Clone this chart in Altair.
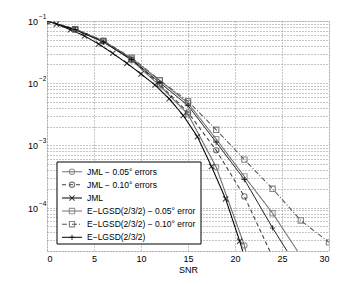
import altair as alt
import pandas as pd

FONT = "Liberation Sans"

# ---- data ----
snr_grid = [0, 3, 6, 9, 12, 15, 18, 21, 24, 27, 30]
snr_jml = [1, 2.5, 4, 5.5, 7, 8.5, 10, 11.5, 13, 14.5, 16, 17.5, 19, 20.5, 22]

jml_005 = [0.1, 0.0724, 0.0468, 0.0234, 0.00912, 0.00316, 0.000447, 2.45e-5, 3.2e-7]
jml_010 = [0.1, 0.0741, 0.0479, 0.0240, 0.00955, 0.00339, 0.000832, 0.000151, 1.6e-5]
jml = [0.0891, 0.0724, 0.0575, 0.0427, 0.0302, 0.0209, 0.0141, 0.00933, 0.00562,
       0.00302, 0.00138, 0.000457, 0.000138, 2.88e-5, 5e-6]
elgsd_005 = [0.1, 0.0741, 0.0479, 0.0251, 0.0110, 0.00479, 0.00126, 0.000316, 8.1e-5, 1.66e-5]
elgsd_010 = [0.1, 0.0741, 0.0479, 0.0257, 0.0112, 0.00513, 0.00178, 0.000589, 0.0002, 6.2e-5, 2.75e-5]
elgsd = [0.1, 0.0724, 0.0457, 0.0240, 0.0102, 0.00437, 0.00112, 0.000282, 4.7e-5, 8.9e-6]

series_names = [
    "JML \u2212 0.05\u00b0 errors",
    "JML \u2212 0.10\u00b0 errors",
    "JML",
    "E\u2212LGSD(2/3/2) \u2212 0.05\u00b0 errors",
    "E\u2212LGSD(2/3/2) \u2212 0.10\u00b0 errors",
    "E\u2212LGSD(2/3/2)",
]
series_x = [snr_grid, snr_grid, snr_jml, snr_grid, snr_grid, snr_grid]
series_y = [jml_005, jml_010, jml, elgsd_005, elgsd_010, elgsd]

x_ticks = [0, 5, 10, 15, 20, 25, 30]
decades = [1e-1, 1e-2, 1e-3, 1e-4]
decade_exp = ["\u22121", "\u22122", "\u22123", "\u22124"]

# ---- styles ----
colors = ["#707070", "#404040", "#000000", "#707070", "#555555", "#000000"]
widths = [1.1, 1.0, 2.0, 1.1, 1.0, 2.0]
dashes = [[1, 0], [4, 3], [1, 0], [1, 0], [5, 2, 1, 2], [1, 0]]
X_PATH = "M-1,-1L1,1M-1,1L1,-1"
PLUS_PATH = "M-1,0L1,0M0,-1L0,1"
shapes = ["circle", "circle", X_PATH, "square", "square", PLUS_PATH]

rows = []
for name, xs_, ys_ in zip(series_names, series_x, series_y):
    for xv, yv in zip(xs_, ys_):
        rows.append({"series": name, "snr": xv, "ber": yv})
df = pd.DataFrame(rows)

minor_ticks = [m * 10.0 ** e for e in range(-5, -1) for m in range(1, 10) if m * 10.0 ** e >= 1.99e-5] + [0.1]

color_s = alt.Scale(domain=series_names, range=colors)
width_s = alt.Scale(domain=series_names, range=widths)
dash_s = alt.Scale(domain=series_names, range=dashes)
shape_s = alt.Scale(domain=series_names, range=shapes)

xs = alt.Scale(domain=[0, 30], nice=False, zero=False)
ys = alt.Scale(type="log", domain=[2e-5, 0.1], nice=False)

x_enc = alt.X("snr:Q", scale=xs, axis=alt.Axis(
    values=x_ticks, grid=True, gridDash=[1, 2], gridColor="#8c8c8c", ticks=False, domain=False,
    labelFont=FONT, labelFontSize=9, labelPadding=3, labelColor="#000",
    title="SNR", titleFont=FONT, titleFontSize=9, titleFontWeight="normal", titlePadding=2, titleColor="#000"))
y_enc = alt.Y("ber:Q", scale=ys, axis=alt.Axis(
    values=minor_ticks, grid=True, gridDash=[1, 2], gridColor="#8c8c8c", ticks=False, domain=False,
    labels=False, title=None))

base = alt.Chart(df)
lines = base.mark_line(clip=True).encode(
    x=x_enc, y=y_enc,
    color=alt.Color("series:N", scale=color_s, legend=None),
    strokeWidth=alt.StrokeWidth("series:N", scale=width_s, legend=None),
    strokeDash=alt.StrokeDash("series:N", scale=dash_s, legend=None),
    detail="series:N",
)
points = base.mark_point(clip=True, filled=False, size=28, strokeWidth=1.1).encode(
    x=alt.X("snr:Q", scale=xs), y=alt.Y("ber:Q", scale=ys),
    color=alt.Color("series:N", scale=color_s, legend=None),
    shape=alt.Shape("series:N", scale=shape_s, legend=None),
)

dec_df = pd.DataFrame({"ber": decades, "exp": decade_exp, "base": ["10"] * len(decades)})
ylab = alt.Chart(dec_df).mark_text(align="right", baseline="middle", font=FONT, fontSize=9, dy=1).encode(
    x=alt.value(-9), y=alt.Y("ber:Q", scale=ys), text="base:N")
yexp = alt.Chart(dec_df).mark_text(align="left", baseline="middle", font=FONT, fontSize=6.5, dy=-4).encode(
    x=alt.value(-8), y=alt.Y("ber:Q", scale=ys), text="exp:N")

main = alt.layer(lines, points, ylab, yexp)

# ---- legend ----
leg_rows = []
for i, name in enumerate(series_names):
    for lx in (0, 1):
        leg_rows.append({"series": name, "row": i, "lx": lx})
leg_df = pd.DataFrame(leg_rows)
leg_pts = pd.DataFrame({"series": series_names, "row": list(range(len(series_names))), "lx": [0.5] * len(series_names)})

lxs = alt.Scale(domain=[0, 1], range=[15, 35])
lys = alt.Scale(domain=[0, 5], range=[150.7, 216.3])

box = alt.Chart(pd.DataFrame({"a": [0]})).mark_rect(fill="white", stroke="black", strokeWidth=1).encode(
    x=alt.value(10), x2=alt.value(154), y=alt.value(141), y2=alt.value(223))
leg_lines = alt.Chart(leg_df).mark_line().encode(
    x=alt.X("lx:Q", scale=lxs, axis=None), y=alt.Y("row:Q", scale=lys, axis=None),
    color=alt.Color("series:N", scale=color_s, legend=None),
    strokeWidth=alt.StrokeWidth("series:N", scale=width_s, legend=None),
    strokeDash=alt.StrokeDash("series:N", scale=dash_s, legend=None),
    detail="series:N",
)
leg_points = alt.Chart(leg_pts).mark_point(filled=False, size=28, strokeWidth=1.1).encode(
    x=alt.X("lx:Q", scale=lxs, axis=None), y=alt.Y("row:Q", scale=lys, axis=None),
    color=alt.Color("series:N", scale=color_s, legend=None),
    shape=alt.Shape("series:N", scale=shape_s, legend=None),
)
leg_text = alt.Chart(leg_pts).mark_text(align="left", baseline="middle", font=FONT, fontSize=8.5,
                                        limit=111, ellipsis="\u200b", color="black").encode(
    x=alt.value(40), y=alt.Y("row:Q", scale=lys, axis=None), text="series:N")

legend = alt.layer(box, leg_lines, leg_points, leg_text)

chart = alt.layer(main, legend).resolve_scale(x="independent", y="independent").properties(
    width=282, height=230, autosize="none",
    padding={"left": 39, "top": 13, "right": 10, "bottom": 25},
).configure_view(stroke="black", strokeWidth=1).configure(background="white")

chart.save("out.html", embed_options={"renderer": "svg", "actions": False})
